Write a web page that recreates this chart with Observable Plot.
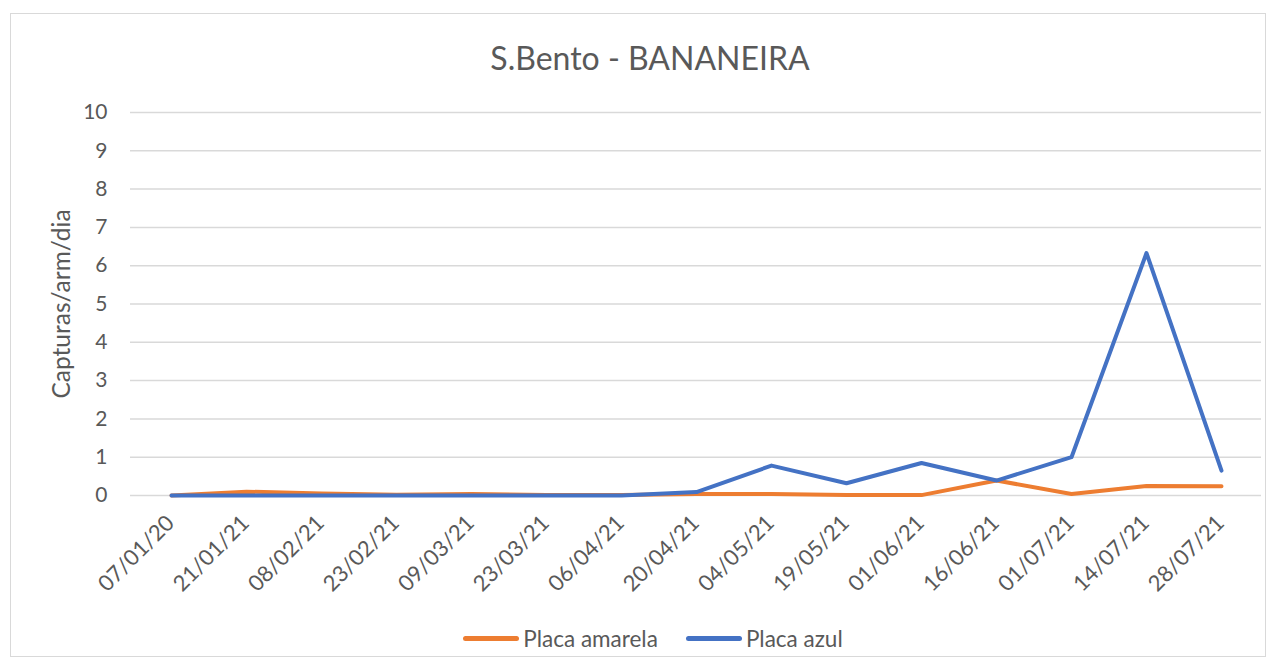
<!DOCTYPE html>
<html>
<head>
<meta charset="utf-8">
<script src="https://cdn.jsdelivr.net/npm/d3@7"></script>
<script src="https://cdn.jsdelivr.net/npm/@observablehq/plot@0.6"></script>
<style>
  body { margin: 0; background: #fff; font-family: Lato, "Open Sans", sans-serif; }
  #frame { position: absolute; left: 10px; top: 13px; width: 1256px; height: 644px; border: 1.5px solid #d9d9d9; box-sizing: border-box; }
  #title { position: absolute; left: 0; width: 1300px; top: 38px; text-align: center; font-size: 32px; color: #595959; }
  #chart { position: absolute; left: 0; top: 0; }
  #legend { position: absolute; left: 0; width: 1306px; top: 619px; text-align: center; font-size: 22.5px; color: #595959; }
  .item { display: inline-flex; align-items: center; margin: 0 14px; }
  .sw { display: inline-block; width: 56px; height: 5px; border-radius: 3px; margin-right: 4px; }
</style>
</head>
<body>
<div id="frame"></div>
<div id="chart"></div>
<div id="title">S.Bento - BANANEIRA</div>
<div id="legend"></div>
<script>
const dates = ["07/01/20","21/01/21","08/02/21","23/02/21","09/03/21","23/03/21","06/04/21","20/04/21","04/05/21","19/05/21","01/06/21","16/06/21","01/07/21","14/07/21","28/07/21"];
const placaAmarela = [0, 0.1, 0.05, 0.02, 0.04, 0.01, 0.01, 0.04, 0.04, 0.01, 0.01, 0.39, 0.04, 0.25, 0.24];
const placaAzul = [0, 0, 0, 0, 0, 0, 0, 0.09, 0.78, 0.32, 0.85, 0.39, 1.0, 6.33, 0.65];
const seriesNames = ["Placa amarela", "Placa azul"];
const seriesColors = ["#ED7D31", "#4472C4"];
const yTicks = [0,1,2,3,4,5,6,7,8,9,10];

const rows = [];
dates.forEach((d, i) => {
  rows.push({date: d, value: placaAmarela[i], series: seriesNames[0]});
});
dates.forEach((d, i) => {
  rows.push({date: d, value: placaAzul[i], series: seriesNames[1]});
});

const chart = Plot.plot({
  width: 1278,
  height: 640,
  marginTop: 112,
  marginLeft: 130,
  marginRight: 17,
  marginBottom: 145,
  style: { fontFamily: "Lato, sans-serif", fontSize: "21px", color: "#595959", background: "transparent" },
  x: { type: "point", domain: dates, padding: 0.5, label: null },
  y: { domain: [0, 10], ticks: yTicks, label: null },
  color: { domain: seriesNames, range: seriesColors },
  marks: [
    Plot.gridY(yTicks, { stroke: "#d9d9d9", strokeOpacity: 1, strokeWidth: 1.5 }),
    Plot.axisY({ ticks: yTicks, tickSize: 0, tickPadding: 23, fontSize: 21, fill: "#595959", label: null }),
    Plot.axisX({ tickSize: 0, tickRotate: -45, tickPadding: 24, dx: -1, fontSize: 22, fill: "#595959", label: null }),
    Plot.text(["Capturas/arm/dia"], { frameAnchor: "left", textAnchor: "middle", dx: -68, rotate: -90, fontSize: 24.5, fill: "#595959" }),
    Plot.lineY(rows, { x: "date", y: "value", stroke: "series", z: "series", strokeWidth: 4, strokeLinejoin: "round", strokeLinecap: "round" })
  ]
});
document.getElementById("chart").appendChild(chart);

const legend = document.getElementById("legend");
seriesNames.forEach((n, i) => {
  const it = document.createElement("span");
  it.className = "item";
  it.innerHTML = `<span class="sw" style="background:${seriesColors[i]}"></span>${n}`;
  legend.appendChild(it);
});
</script>
</body>
</html>
